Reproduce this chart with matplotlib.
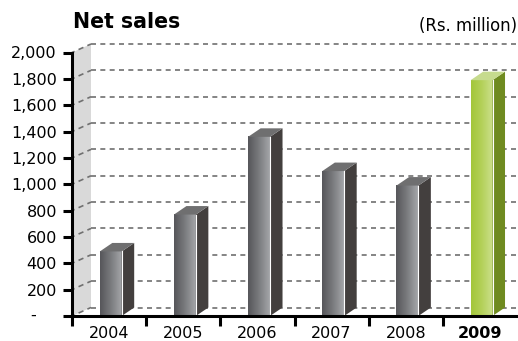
import numpy as np
import matplotlib
matplotlib.use("Agg")
import matplotlib.pyplot as plt
from matplotlib.colors import LinearSegmentedColormap
from matplotlib.patches import Polygon

# Net sales by year (Rs. million)
years = ["2004", "2005", "2006", "2007", "2008", "2009"]
net_sales = [490, 770, 1360, 1100, 990, 1790]
highlight_year = "2009"

y_ticks = [0, 200, 400, 600, 800, 1000, 1200, 1400, 1600, 1800, 2000]
y_tick_labels = ["-", "200", "400", "600", "800", "1,000", "1,200",
                 "1,400", "1,600", "1,800", "2,000"]

title = "Net sales"
unit_label = "(Rs. million)"

plt.rcParams["font.family"] = ["DejaVu Sans"]

W, H = 518, 341
fig = plt.figure(figsize=(W / 100, H / 100), dpi=100)
ax = fig.add_axes([72 / W, (H - 316) / H, (517 - 72) / W, (316 - 52.5) / H])
n = len(years)
ymax = y_ticks[-1]
ax.set_xlim(0, n)
ax.set_ylim(0, ymax)

# pixel -> data conversion for the oblique depth offsets
px_x = (517 - 72) / n
px_y = (316 - 52.5) / ymax
wall_dx, wall_dy = 19 / px_x, 8.5 / px_y
bar_dx, bar_dy = 12.5 / px_x, 8.5 / px_y
bar_off, bar_w = 0.375, 0.295

# back wall
wall = Polygon([(0, 0), (wall_dx, wall_dy), (wall_dx, ymax + wall_dy), (0, ymax)],
               closed=True, facecolor="#d9d9d9", edgecolor="none", zorder=1,
               clip_on=False)
ax.add_patch(wall)

# dashed gridlines on the wall and the back plane
grid_c = "#707070"
for v in y_ticks:
    ax.plot([0, wall_dx], [v, v + wall_dy], color=grid_c, lw=1.2,
            linestyle=(1.5, (3.2, 2.6)), zorder=2, clip_on=False,
            solid_capstyle="butt", dash_capstyle="butt")
    ax.plot([wall_dx, n], [v + wall_dy, v + wall_dy], color=grid_c, lw=1.2,
            linestyle=(0, (3.0, 2.6)), zorder=2, clip_on=False,
            dash_capstyle="butt")

gray_front = LinearSegmentedColormap.from_list("gf", ["#56565a", "#7a7b7e", "#a4a6a9"])
green_front = LinearSegmentedColormap.from_list("gr", ["#a3c63a", "#b4d15a", "#cce08c"])
grad = np.linspace(0, 1, 64).reshape(1, -1)

for i, (yr, v) in enumerate(zip(years, net_sales)):
    hl = yr == highlight_year
    x0 = i + bar_off
    x1 = x0 + bar_w
    cmap = green_front if hl else gray_front
    side_c = "#6f8b20" if hl else "#433f3e"
    top_c = "#c6db8e" if hl else "#6f6f70"
    ax.imshow(grad, extent=[x0, x1, 0, v], aspect="auto", cmap=cmap,
              interpolation="bilinear", zorder=3)
    ax.add_patch(Polygon([(x1, 0), (x1 + bar_dx, bar_dy), (x1 + bar_dx, v + bar_dy), (x1, v)],
                         closed=True, facecolor=side_c, edgecolor="none", zorder=3))
    ax.add_patch(Polygon([(x0, v), (x1, v), (x1 + bar_dx, v + bar_dy), (x0 + bar_dx, v + bar_dy)],
                         closed=True, facecolor=top_c, edgecolor="none", zorder=3))
    ax.plot([x1, x1], [0, v], color="white", lw=0.8, zorder=3.5)

ax.set_xlim(0, n)
ax.set_ylim(0, ymax)

# axes styling
for s in ["top", "right"]:
    ax.spines[s].set_visible(False)
for s in ["left", "bottom"]:
    ax.spines[s].set_linewidth(2.2)
    ax.spines[s].set_zorder(5)

ax.set_yticks(y_ticks)
ax.set_yticklabels([""] + y_tick_labels[1:])
ax.tick_params(axis="y", length=6.5, width=2.2, pad=4.3, labelsize=11.5)
ax.annotate(y_tick_labels[0], xy=(0, 0), xycoords="data", xytext=(-28, 0.5),
            textcoords="offset points", ha="center", va="center",
            fontsize=11.5, annotation_clip=False)

ax.set_xticks([i + 0.5 for i in range(n)])
ax.set_xticklabels(years)
ax.set_xticks(list(range(n)), minor=True)
ax.tick_params(axis="x", which="major", length=0, pad=7, labelsize=11.5)
ax.tick_params(axis="x", which="minor", length=7.5, width=2.2)
for lbl in ax.get_xticklabels():
    if lbl.get_text() == highlight_year:
        lbl.set_fontweight("bold")

fig.text(73 / W, (H - 28.5) / H, title, fontsize=14.8, fontweight="bold",
         ha="left", va="baseline")
fig.text(517 / W, (H - 31) / H, unit_label, fontsize=11.9,
         ha="right", va="baseline")

fig.savefig("out.png", dpi=100)
